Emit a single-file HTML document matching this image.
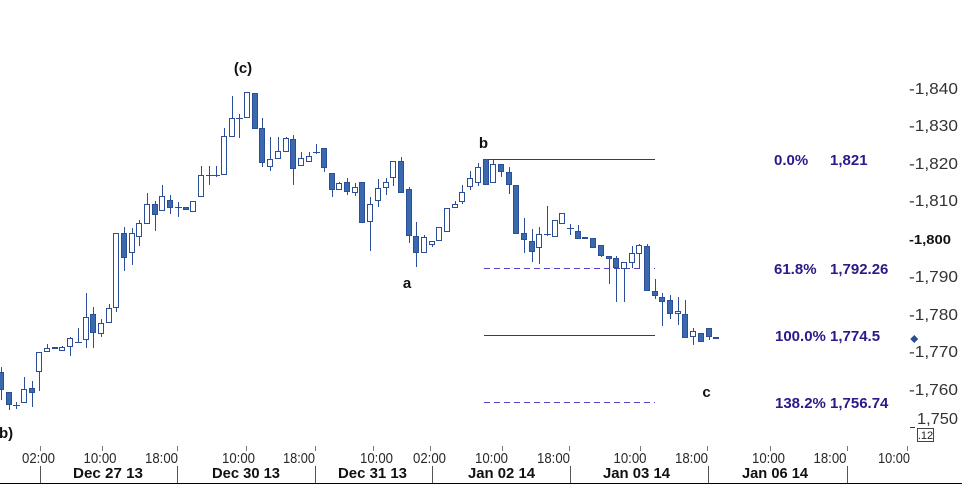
<!DOCTYPE html>
<html><head><meta charset="utf-8"><style>
html,body{margin:0;padding:0;background:#fff;}
svg{display:block;font-family:"Liberation Sans",Arial,sans-serif;}
.w{stroke:#2a4f98;stroke-width:1;}
.f{fill:#3b69ad;stroke:#2a4f98;stroke-width:1;}
.h{fill:#fff;stroke:#2a4f98;stroke-width:1;}
.yl{font-size:16px;fill:#333;}
.tl{font-size:15px;fill:#2a2a2a;}
.dl{font-size:15px;font-weight:bold;fill:#111;}
.fb{font-size:15px;font-weight:bold;fill:#2a1a8a;}
.lab{font-size:15px;font-weight:bold;fill:#111;}
</style></head><body>
<svg width="962" height="484" viewBox="0 0 962 484" xmlns="http://www.w3.org/2000/svg" shape-rendering="crispEdges">
<rect width="962" height="484" fill="#fff"/>

<!-- fib lines -->
<line x1="483" y1="159.5" x2="655" y2="159.5" stroke="#3c2ca0" stroke-width="1"/>
<line x1="484" y1="268.5" x2="655" y2="268.5" stroke="#5e40c8" stroke-width="1" stroke-dasharray="6,4"/>
<line x1="484" y1="335.5" x2="655" y2="335.5" stroke="#3c2ca0" stroke-width="1"/>
<line x1="484" y1="402.5" x2="655" y2="402.5" stroke="#5e40c8" stroke-width="1" stroke-dasharray="6,4"/>

<!-- candles -->
<g>
<line class="w" x1="1.5" y1="367" x2="1.5" y2="400"/><rect class="f" x="-1.5" y="372.5" width="5" height="17"/>
<line class="w" x1="9.5" y1="392" x2="9.5" y2="410"/><rect class="f" x="6.5" y="392.5" width="5" height="12"/>
<line class="w" x1="16.5" y1="402" x2="16.5" y2="409"/><line class="w" x1="13" y1="405.5" x2="20" y2="405.5"/>
<line class="w" x1="24.5" y1="377" x2="24.5" y2="403"/><rect class="h" x="21.5" y="389.5" width="5" height="13"/>
<line class="w" x1="32.5" y1="381" x2="32.5" y2="407"/><rect class="f" x="29.5" y="388.5" width="5" height="4"/>
<line class="w" x1="39.5" y1="352" x2="39.5" y2="391"/><rect class="h" x="36.5" y="352.5" width="5" height="19"/>
<line class="w" x1="47.5" y1="344" x2="47.5" y2="352"/><rect class="h" x="44.5" y="348.5" width="5" height="3"/>
<rect class="f" x="52.5" y="347.5" width="5" height="1"/>
<line class="w" x1="62.5" y1="346" x2="62.5" y2="351"/><rect class="h" x="59.5" y="347.5" width="5" height="3"/>
<line class="w" x1="70.5" y1="337" x2="70.5" y2="356"/><rect class="h" x="67.5" y="338.5" width="5" height="8"/>
<line class="w" x1="78.5" y1="328" x2="78.5" y2="342"/><line class="w" x1="75" y1="342.5" x2="82" y2="342.5"/>
<line class="w" x1="86.5" y1="293" x2="86.5" y2="348"/><rect class="h" x="83.5" y="317.5" width="5" height="22"/>
<line class="w" x1="93.5" y1="307" x2="93.5" y2="348"/><rect class="f" x="90.5" y="314.5" width="5" height="18"/>
<line class="w" x1="101.5" y1="319" x2="101.5" y2="337"/><rect class="h" x="98.5" y="323.5" width="5" height="10"/>
<line class="w" x1="109.5" y1="304" x2="109.5" y2="323"/><rect class="h" x="106.5" y="308.5" width="5" height="14"/>
<line class="w" x1="116.5" y1="233" x2="116.5" y2="312"/><rect class="h" x="113.5" y="233.5" width="5" height="74"/>
<line class="w" x1="124.5" y1="227" x2="124.5" y2="271"/><rect class="f" x="121.5" y="233.5" width="5" height="24"/>
<line class="w" x1="132.5" y1="228" x2="132.5" y2="265"/><rect class="h" x="129.5" y="233.5" width="5" height="19"/>
<line class="w" x1="139.5" y1="220" x2="139.5" y2="246"/><rect class="h" x="136.5" y="223.5" width="5" height="13"/>
<line class="w" x1="147.5" y1="193" x2="147.5" y2="224"/><rect class="h" x="144.5" y="204.5" width="5" height="19"/>
<line class="w" x1="155.5" y1="201" x2="155.5" y2="231"/><rect class="f" x="152.5" y="204.5" width="5" height="10"/>
<line class="w" x1="162.5" y1="185" x2="162.5" y2="211"/><rect class="h" x="159.5" y="196.5" width="5" height="14"/>
<line class="w" x1="170.5" y1="195" x2="170.5" y2="214"/><rect class="f" x="167.5" y="200.5" width="5" height="7"/>
<line class="w" x1="178.5" y1="202" x2="178.5" y2="217"/><line class="w" x1="175" y1="207.5" x2="182" y2="207.5"/>
<rect class="f" x="183.5" y="207.5" width="5" height="2"/>
<line class="w" x1="193.5" y1="201" x2="193.5" y2="212"/><rect class="h" x="190.5" y="201.5" width="5" height="10"/>
<line class="w" x1="201.5" y1="166" x2="201.5" y2="197"/><rect class="h" x="198.5" y="175.5" width="5" height="21"/>
<line class="w" x1="209.5" y1="166" x2="209.5" y2="185"/><line class="w" x1="206" y1="175.5" x2="213" y2="175.5"/>
<line class="w" x1="216.5" y1="166" x2="216.5" y2="177"/><line class="w" x1="213" y1="175.5" x2="220" y2="175.5"/>
<line class="w" x1="224.5" y1="128" x2="224.5" y2="175"/><rect class="h" x="221.5" y="136.5" width="5" height="38"/>
<line class="w" x1="232.5" y1="96" x2="232.5" y2="137"/><rect class="h" x="229.5" y="118.5" width="5" height="18"/>
<line class="w" x1="239.5" y1="114" x2="239.5" y2="138"/><line class="w" x1="236" y1="118.5" x2="243" y2="118.5"/>
<line class="w" x1="247.5" y1="92" x2="247.5" y2="118"/><rect class="h" x="244.5" y="92.5" width="5" height="25"/>
<line class="w" x1="255.5" y1="93" x2="255.5" y2="129"/><rect class="f" x="252.5" y="93.5" width="5" height="35"/>
<line class="w" x1="262.5" y1="118" x2="262.5" y2="167"/><rect class="f" x="259.5" y="128.5" width="5" height="34"/>
<line class="w" x1="270.5" y1="137" x2="270.5" y2="171"/><rect class="h" x="267.5" y="159.5" width="5" height="7"/>
<line class="w" x1="278.5" y1="137" x2="278.5" y2="159"/><rect class="h" x="275.5" y="151.5" width="5" height="7"/>
<line class="w" x1="286.5" y1="137" x2="286.5" y2="152"/><rect class="h" x="283.5" y="138.5" width="5" height="13"/>
<line class="w" x1="293.5" y1="135" x2="293.5" y2="185"/><rect class="f" x="290.5" y="139.5" width="5" height="29"/>
<line class="w" x1="301.5" y1="152" x2="301.5" y2="166"/><rect class="h" x="298.5" y="158.5" width="5" height="7"/>
<line class="w" x1="309.5" y1="152" x2="309.5" y2="162"/><rect class="h" x="306.5" y="156.5" width="5" height="5"/>
<line class="w" x1="316.5" y1="144" x2="316.5" y2="154"/><line class="w" x1="313" y1="152.5" x2="320" y2="152.5"/>
<line class="w" x1="324.5" y1="148" x2="324.5" y2="172"/><rect class="f" x="321.5" y="148.5" width="5" height="19"/>
<line class="w" x1="332.5" y1="173" x2="332.5" y2="197"/><rect class="f" x="329.5" y="173.5" width="5" height="16"/>
<line class="w" x1="339.5" y1="182" x2="339.5" y2="190"/><rect class="h" x="336.5" y="183.5" width="5" height="6"/>
<line class="w" x1="347.5" y1="178" x2="347.5" y2="195"/><rect class="f" x="344.5" y="182.5" width="5" height="9"/>
<line class="w" x1="355.5" y1="183" x2="355.5" y2="196"/><rect class="h" x="352.5" y="187.5" width="5" height="5"/>
<line class="w" x1="362.5" y1="182" x2="362.5" y2="223"/><rect class="f" x="359.5" y="182.5" width="5" height="40"/>
<line class="w" x1="370.5" y1="197" x2="370.5" y2="251"/><rect class="h" x="367.5" y="204.5" width="5" height="17"/>
<line class="w" x1="378.5" y1="179" x2="378.5" y2="207"/><rect class="h" x="375.5" y="188.5" width="5" height="12"/>
<line class="w" x1="386.5" y1="178" x2="386.5" y2="195"/><rect class="h" x="383.5" y="182.5" width="5" height="5"/>
<line class="w" x1="393.5" y1="161" x2="393.5" y2="186"/><rect class="h" x="390.5" y="161.5" width="5" height="16"/>
<line class="w" x1="401.5" y1="157" x2="401.5" y2="193"/><rect class="f" x="398.5" y="161.5" width="5" height="31"/>
<line class="w" x1="409.5" y1="187" x2="409.5" y2="243"/><rect class="f" x="406.5" y="189.5" width="5" height="46"/>
<line class="w" x1="416.5" y1="222" x2="416.5" y2="267"/><rect class="f" x="413.5" y="236.5" width="5" height="16"/>
<line class="w" x1="424.5" y1="235" x2="424.5" y2="253"/><rect class="h" x="421.5" y="237.5" width="5" height="15"/>
<line class="w" x1="432.5" y1="241" x2="432.5" y2="247"/><rect class="h" x="429.5" y="241.5" width="5" height="3"/>
<line class="w" x1="439.5" y1="227" x2="439.5" y2="241"/><rect class="h" x="436.5" y="227.5" width="5" height="13"/>
<line class="w" x1="447.5" y1="208" x2="447.5" y2="232"/><rect class="h" x="444.5" y="208.5" width="5" height="23"/>
<line class="w" x1="455.5" y1="201" x2="455.5" y2="208"/><rect class="h" x="452.5" y="204.5" width="5" height="3"/>
<line class="w" x1="462.5" y1="185" x2="462.5" y2="204"/><rect class="h" x="459.5" y="192.5" width="5" height="9"/>
<line class="w" x1="470.5" y1="171" x2="470.5" y2="190"/><rect class="h" x="467.5" y="178.5" width="5" height="8"/>
<line class="w" x1="478.5" y1="163" x2="478.5" y2="186"/><rect class="h" x="475.5" y="167.5" width="5" height="15"/>
<line class="w" x1="486.5" y1="159" x2="486.5" y2="185"/><rect class="f" x="483.5" y="159.5" width="5" height="25"/>
<line class="w" x1="493.5" y1="160" x2="493.5" y2="183"/><rect class="h" x="490.5" y="164.5" width="5" height="18"/>
<line class="w" x1="501.5" y1="164" x2="501.5" y2="177"/><rect class="f" x="498.5" y="164.5" width="5" height="7"/>
<line class="w" x1="509.5" y1="167" x2="509.5" y2="194"/><rect class="f" x="506.5" y="172.5" width="5" height="12"/>
<line class="w" x1="516.5" y1="185" x2="516.5" y2="234"/><rect class="f" x="513.5" y="185.5" width="5" height="48"/>
<line class="w" x1="524.5" y1="218" x2="524.5" y2="253"/><rect class="f" x="521.5" y="233.5" width="5" height="6"/>
<line class="w" x1="532.5" y1="229" x2="532.5" y2="262"/><rect class="f" x="529.5" y="241.5" width="5" height="10"/>
<line class="w" x1="539.5" y1="227" x2="539.5" y2="264"/><rect class="h" x="536.5" y="234.5" width="5" height="13"/>
<line class="w" x1="547.5" y1="206" x2="547.5" y2="236"/><line class="w" x1="544" y1="234.5" x2="551" y2="234.5"/>
<line class="w" x1="555.5" y1="220" x2="555.5" y2="237"/><rect class="h" x="552.5" y="220.5" width="5" height="16"/>
<line class="w" x1="562.5" y1="213" x2="562.5" y2="224"/><rect class="h" x="559.5" y="213.5" width="5" height="10"/>
<line class="w" x1="570.5" y1="224" x2="570.5" y2="235"/><line class="w" x1="567" y1="228.5" x2="574" y2="228.5"/>
<line class="w" x1="578.5" y1="225" x2="578.5" y2="239"/><rect class="f" x="575.5" y="231.5" width="5" height="7"/>
<rect class="f" x="582.5" y="237.5" width="5" height="1"/>
<line class="w" x1="593.5" y1="238" x2="593.5" y2="248"/><rect class="f" x="590.5" y="238.5" width="5" height="9"/>
<line class="w" x1="601.5" y1="245" x2="601.5" y2="257"/><rect class="f" x="598.5" y="245.5" width="5" height="10"/>
<line class="w" x1="609.5" y1="256" x2="609.5" y2="284"/><rect class="f" x="606.5" y="256.5" width="5" height="2"/>
<line class="w" x1="616.5" y1="256" x2="616.5" y2="302"/><rect class="f" x="613.5" y="258.5" width="5" height="9"/>
<line class="w" x1="624.5" y1="262" x2="624.5" y2="302"/><rect class="h" x="621.5" y="262.5" width="5" height="6"/>
<line class="w" x1="632.5" y1="246" x2="632.5" y2="268"/><rect class="h" x="629.5" y="253.5" width="5" height="9"/>
<line class="w" x1="639.5" y1="244" x2="639.5" y2="268"/><rect class="h" x="636.5" y="245.5" width="5" height="8"/>
<line class="w" x1="647.5" y1="244" x2="647.5" y2="291"/><rect class="f" x="644.5" y="246.5" width="5" height="44"/>
<line class="w" x1="655.5" y1="279" x2="655.5" y2="299"/><rect class="f" x="652.5" y="291.5" width="5" height="4"/>
<line class="w" x1="662.5" y1="293" x2="662.5" y2="326"/><rect class="f" x="659.5" y="297.5" width="5" height="4"/>
<line class="w" x1="670.5" y1="295" x2="670.5" y2="319"/><rect class="f" x="667.5" y="300.5" width="5" height="13"/>
<line class="w" x1="678.5" y1="297" x2="678.5" y2="325"/><rect class="h" x="675.5" y="311.5" width="5" height="2"/>
<line class="w" x1="685.5" y1="300" x2="685.5" y2="338"/><rect class="f" x="682.5" y="314.5" width="5" height="23"/>
<line class="w" x1="693.5" y1="328" x2="693.5" y2="345"/><rect class="h" x="690.5" y="331.5" width="5" height="5"/>
<line class="w" x1="701.5" y1="333" x2="701.5" y2="342"/><rect class="f" x="698.5" y="333.5" width="5" height="8"/>
<line class="w" x1="709.5" y1="328" x2="709.5" y2="340"/><rect class="f" x="706.5" y="328.5" width="5" height="8"/>
<rect class="f" x="713.5" y="337.5" width="5" height="1"/>
</g>

<!-- wave labels -->
<text class="lab" x="243" y="73" text-anchor="middle">(c)</text>
<text class="lab" x="483.5" y="148" text-anchor="middle">b</text>
<text class="lab" x="407" y="288" text-anchor="middle">a</text>
<text class="lab" x="706.5" y="397" text-anchor="middle">c</text>
<text class="lab" x="-1" y="438">b)</text>

<!-- fib labels -->
<text class="fb" x="774" y="165">0.0%</text><text class="fb" x="830" y="165">1,821</text>
<text class="fb" x="774" y="274">61.8%</text><text class="fb" x="830" y="274">1,792.26</text>
<text class="fb" x="775" y="341">100.0%</text><text class="fb" x="830" y="341">1,774.5</text>
<text class="fb" x="775" y="408">138.2%</text><text class="fb" x="830" y="408">1,756.74</text>

<!-- y axis -->
<g class="yl">
<text x="909" y="94" textLength="49" lengthAdjust="spacingAndGlyphs">-1,840</text>
<text x="909" y="131" textLength="49" lengthAdjust="spacingAndGlyphs">-1,830</text>
<text x="909" y="169" textLength="49" lengthAdjust="spacingAndGlyphs">-1,820</text>
<text x="909" y="206" textLength="49" lengthAdjust="spacingAndGlyphs">-1,810</text>
<text x="909" y="244" style="font-size:13px;font-weight:bold;fill:#111" textLength="42" lengthAdjust="spacingAndGlyphs">-1,800</text>
<text x="909" y="282" textLength="49" lengthAdjust="spacingAndGlyphs">-1,790</text>
<text x="909" y="320" textLength="49" lengthAdjust="spacingAndGlyphs">-1,780</text>
<text x="909" y="357" textLength="49" lengthAdjust="spacingAndGlyphs">-1,770</text>
<text x="909" y="395" textLength="49" lengthAdjust="spacingAndGlyphs">-1,760</text>
<text x="917" y="424" textLength="41" lengthAdjust="spacingAndGlyphs">1,750</text>
</g>
<line x1="910" y1="427.5" x2="915" y2="427.5" stroke="#333"/>
<rect x="917.5" y="428.5" width="16" height="13" fill="#fff" stroke="#444"/>
<text x="925.5" y="439" text-anchor="middle" style="font-size:11px;fill:#222">.12</text>
<path d="M914 335 L918 339 L914 343 L910 339 Z" fill="#2a4f98"/>

<!-- x axis -->
<g stroke="#777">
<line x1="40.5" y1="446" x2="40.5" y2="451"/><line x1="102.5" y1="446" x2="102.5" y2="451"/>
<line x1="177.5" y1="446" x2="177.5" y2="451"/><line x1="246.5" y1="446" x2="246.5" y2="451"/>
<line x1="315.5" y1="446" x2="315.5" y2="451"/><line x1="373.5" y1="446" x2="373.5" y2="451"/>
<line x1="430.5" y1="446" x2="430.5" y2="451"/><line x1="502.5" y1="446" x2="502.5" y2="451"/>
<line x1="569.5" y1="446" x2="569.5" y2="451"/><line x1="640.5" y1="446" x2="640.5" y2="451"/>
<line x1="707.5" y1="446" x2="707.5" y2="451"/><line x1="770.5" y1="446" x2="770.5" y2="451"/>
<line x1="847.5" y1="446" x2="847.5" y2="451"/><line x1="907.5" y1="446" x2="907.5" y2="451"/>
</g>
<g stroke="#555">
<line x1="40.5" y1="466" x2="40.5" y2="483"/><line x1="177.5" y1="466" x2="177.5" y2="483"/>
<line x1="315.5" y1="466" x2="315.5" y2="483"/><line x1="432.5" y1="466" x2="432.5" y2="483"/>
<line x1="570.5" y1="466" x2="570.5" y2="483"/><line x1="708.5" y1="466" x2="708.5" y2="483"/>
<line x1="847.5" y1="466" x2="847.5" y2="483"/>
</g>
<line x1="0" y1="483.5" x2="962" y2="483.5" stroke="#000" stroke-width="1"/>

<g class="tl" text-anchor="middle">
<text x="38.5" y="463" textLength="33" lengthAdjust="spacingAndGlyphs">02:00</text>
<text x="100" y="463" textLength="33" lengthAdjust="spacingAndGlyphs">10:00</text>
<text x="161.5" y="463" textLength="33" lengthAdjust="spacingAndGlyphs">18:00</text>
<text x="238.5" y="463" textLength="33" lengthAdjust="spacingAndGlyphs">10:00</text>
<text x="299" y="463" textLength="32" lengthAdjust="spacingAndGlyphs">18:00</text>
<text x="376.5" y="463" textLength="33" lengthAdjust="spacingAndGlyphs">10:00</text>
<text x="429.5" y="463" textLength="33" lengthAdjust="spacingAndGlyphs">02:00</text>
<text x="491.5" y="463" textLength="33" lengthAdjust="spacingAndGlyphs">10:00</text>
<text x="553.5" y="463" textLength="33" lengthAdjust="spacingAndGlyphs">18:00</text>
<text x="630" y="463" textLength="33" lengthAdjust="spacingAndGlyphs">10:00</text>
<text x="691.5" y="463" textLength="33" lengthAdjust="spacingAndGlyphs">18:00</text>
<text x="768.5" y="463" textLength="33" lengthAdjust="spacingAndGlyphs">10:00</text>
<text x="830" y="463" textLength="33" lengthAdjust="spacingAndGlyphs">18:00</text>
<text x="894" y="463" textLength="32" lengthAdjust="spacingAndGlyphs">10:00</text>
</g>
<g class="dl" text-anchor="middle">
<text x="108" y="478" textLength="70" lengthAdjust="spacingAndGlyphs">Dec 27 13</text>
<text x="246" y="478" textLength="68" lengthAdjust="spacingAndGlyphs">Dec 30 13</text>
<text x="372.5" y="478" textLength="69" lengthAdjust="spacingAndGlyphs">Dec 31 13</text>
<text x="501.5" y="478" textLength="67" lengthAdjust="spacingAndGlyphs">Jan 02 14</text>
<text x="636.5" y="478" textLength="67" lengthAdjust="spacingAndGlyphs">Jan 03 14</text>
<text x="775" y="478" textLength="66" lengthAdjust="spacingAndGlyphs">Jan 06 14</text>
</g>
</svg>
</body></html>
